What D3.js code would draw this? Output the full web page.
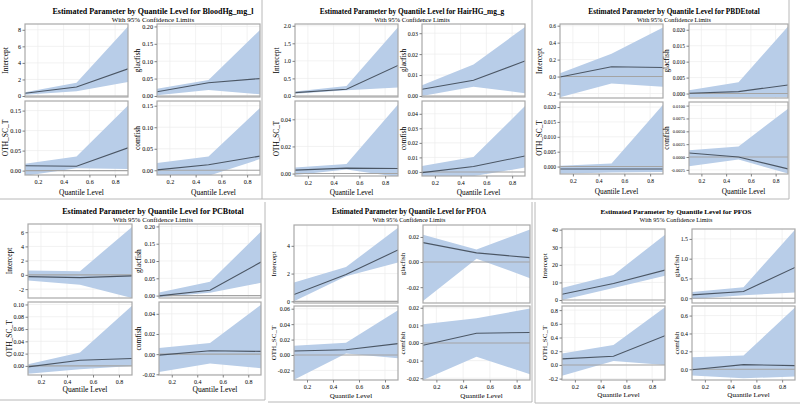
<!DOCTYPE html>
<html><head><meta charset="utf-8">
<script src="https://cdn.jsdelivr.net/npm/d3@7"></script>
<style>
body{margin:0;background:#fff}
svg{display:block}
text{font-family:"Liberation Serif","Times New Roman",serif;fill:#000}
</style>
</head><body><svg id="c" width="800" height="409"></svg>
<script>
// ---------------- data ----------------
const quantiles = [0.1, 0.5, 0.9];
const responses = ["BloodHg_mg_l", "HairHG_mg_g", "PBDEtotal", "PCBtotal", "PFOA", "PFOS"];
const parameters = ["Intercept", "glacfish", "OTH_SC_T", "comfish"];
const xTickLabels = ["0.2", "0.4", "0.6", "0.8"];
const subtitle = "With 95% Confidence Limits";

// rows: Intercept, glacfish, OTH_SC_T, comfish ; columns: quantile 0.1, 0.5, 0.9
const bloodHgEstimate = [[0.33, 1.08, 3.28], [0.012, 0.038, 0.050], [0.012, 0.011, 0.057], [0.001, 0.013, 0.033]];
const bloodHgLower    = [[0.15, 0.58, 1.68], [0.002, 0.017, 0.005], [-0.013, 0.006, 0.004], [-0.013, -0.013, 0.026]];
const bloodHgUpper    = [[0.45, 1.6, 8.4], [0.021, 0.046, 0.19], [0.017, 0.035, 0.163], [0.017, 0.032, 0.145]];
const bloodHgYRange   = [[-0.12, 8.7], [-0.003, 0.207], [-0.011, 0.174], [-0.011, 0.161]];
const bloodHgYTicks   = [["0", "2", "4", "6", "8"], ["0.00", "0.05", "0.10", "0.15", "0.20"], ["0.00", "0.05", "0.10", "0.15"], ["0.00", "0.05", "0.10", "0.15"]];

const hairHgEstimate = [[0.094, 0.19, 0.87], [0.0032, 0.0075, 0.0167], [0.0025, 0.004, 0.0037], [-0.0005, 0.0037, 0.011]];
const hairHgLower    = [[0.06, 0.16, 0.24], [0.0, 0.0044, 0.0013], [-0.001, 0.003, -0.0025], [-0.0029, -0.0029, 0.003]];
const hairHgUpper    = [[0.13, 0.28, 1.96], [0.0051, 0.015, 0.033], [0.0045, 0.007, 0.051], [0.004, 0.0102, 0.0453]];
const hairHgYRange   = [[-0.03, 2.05], [-0.0005, 0.0344], [-0.0018, 0.0535], [-0.0028, 0.0488]];
const hairHgYTicks   = [["0.0", "0.5", "1.0", "1.5", "2.0"], ["0.00", "0.01", "0.02", "0.03"], ["0.00", "0.02", "0.04"], ["0.00", "0.01", "0.02", "0.03", "0.04"]];

const pbdeEstimate = [[-0.005, 0.115, 0.107], [0.0001, 0.0006, 0.0027], [-0.0008, -0.0008, -0.0008], [0.00077, 0.0, -0.0023]];
const pbdeLower    = [[-0.245, -0.083, -0.12], [-0.0012, -0.0012, -0.0012], [-0.0024, -0.002, -0.0018], [-0.0018, -0.0005, -0.0032]];
const pbdeUpper    = [[0.04, 0.27, 0.58], [0.001, 0.0035, 0.021], [0.0003, 0.001, 0.0208], [0.0013, 0.00205, 0.0094]];
const pbdeYRange   = [[-0.253, 0.62], [-0.0014, 0.0218], [-0.0025, 0.0217], [-0.0033, 0.0107]];
const pbdeYTicks   = [["-0.2", "0.0", "0.2", "0.4", "0.6"], ["0.000", "0.005", "0.010", "0.015", "0.020"], ["0.000", "0.005", "0.010", "0.015", "0.020"], ["-0.0025", "0.0000", "0.0025", "0.0050", "0.0075", "0.0100"]];

const pcbEstimate = [[-0.24, -0.38, -0.14], [-0.001, 0.0155, 0.097], [-0.0016, 0.0093, 0.012], [-0.001, 0.0033, 0.0027]];
const pcbLower    = [[-0.8, -1.4, -3.25], [-0.005, 0.008, 0.037], [-0.0126, -0.0055, 0.0], [-0.0177, -0.0093, -0.014]];
const pcbUpper    = [[0.61, 0.52, 6.73], [0.0087, 0.04, 0.185], [0.0027, 0.022, 0.098], [0.006, 0.011, 0.049]];
const pcbYRange   = [[-3.25, 7.15], [-0.007, 0.207], [-0.0148, 0.104], [-0.0207, 0.0517]];
const pcbYTicks   = [["-2", "0", "2", "4", "6"], ["0.00", "0.05", "0.10", "0.15", "0.20"], ["0.00", "0.02", "0.04", "0.06", "0.08", "0.10"], ["-0.02", "0.00", "0.02", "0.04"]];

const pfoaEstimate = [[0.49, 1.93, 3.7], [0.0155, 0.0073, 0.0035], [0.0052, 0.0069, 0.0147], [-0.0013, 0.0055, 0.006]];
const pfoaLower    = [[0.0, 1.8, 2.79], [-0.031, 0.0027, -0.0128], [-0.032, 0.002, -0.0043], [-0.021, -0.0078, -0.0177]];
const pfoaUpper    = [[1.36, 2.47, 5.3], [0.0218, 0.01, 0.026], [0.012, 0.016, 0.058], [0.0106, 0.014, 0.0196]];
const pfoaYRange   = [[-0.12, 5.5], [-0.0326, 0.0295], [-0.0324, 0.0635], [-0.021, 0.021]];
const pfoaYTicks   = [["0", "2", "4"], ["-0.02", "0.00", "0.02"], ["-0.02", "0.00", "0.02", "0.04", "0.06"], ["-0.02", "-0.01", "0.00", "0.01", "0.02"]];

const pfosEstimate = [[3.3, 9.4, 17], [0.085, 0.17, 0.78], [0.088, 0.127, 0.427], [-0.005, 0.052, 0.041]];
const pfosLower    = [[0.0, 6.9, 13.8], [-0.02, 0.076, 0.144], [-0.157, 0.059, 0.0], [-0.071, -0.1, -0.082]];
const pfosUpper    = [[6.9, 14.2, 37.2], [0.16, 0.28, 1.73], [0.167, 0.29, 0.84], [0.134, 0.153, 0.69]];
const pfosYRange   = [[-1.7, 40.4], [-0.12, 1.75], [-0.22, 0.86], [-0.12, 0.707]];
const pfosYTicks   = [["0", "10", "20", "30", "40"], ["0.0", "0.5", "1.0", "1.5"], ["-0.2", "0.0", "0.2", "0.4", "0.6", "0.8"], ["0.0", "0.2", "0.4", "0.6"]];

const panels = [
  {name: responses[0], est: bloodHgEstimate, lo: bloodHgLower, hi: bloodHgUpper, yr: bloodHgYRange, yt: bloodHgYTicks},
  {name: responses[1], est: hairHgEstimate, lo: hairHgLower, hi: hairHgUpper, yr: hairHgYRange, yt: hairHgYTicks},
  {name: responses[2], est: pbdeEstimate, lo: pbdeLower, hi: pbdeUpper, yr: pbdeYRange, yt: pbdeYTicks},
  {name: responses[3], est: pcbEstimate, lo: pcbLower, hi: pcbUpper, yr: pcbYRange, yt: pcbYTicks},
  {name: responses[4], est: pfoaEstimate, lo: pfoaLower, hi: pfoaUpper, yr: pfoaYRange, yt: pfoaYTicks},
  {name: responses[5], est: pfosEstimate, lo: pfosLower, hi: pfosUpper, yr: pfosYRange, yt: pfosYTicks}
];

// ---------------- layout ----------------
const layout = [
  {L:[25,128], R:[157,260], T:[24,97],  B:[101,175], tx:153, ty:14,  sy:22,  xly:195, tfs:8.0,  sfs:7.0,  kfs:[6.2,6.2,6.2,6.2], lfs:7.5},
  {L:[295,398],R:[422,525], T:[24,97],  B:[101,176], tx:412, ty:14,  sy:22,  xly:195, tfs:7.35, sfs:6.45, kfs:[5.9,5.9,5.9,5.9], lfs:7.3},
  {L:[560,663],R:[689,788], T:[24,98],  B:[102,174], tx:674, ty:14,  sy:22,  xly:194, tfs:7.35, sfs:6.3,  kfs:[5.5,5.5,5.5,4.5], lfs:7.3},
  {L:[28,132], R:[159,261], T:[224,298],B:[302,375], tx:153, ty:214, sy:222, xly:392, tfs:8.0,  sfs:6.8,  kfs:[6.0,6.0,6.0,6.0], lfs:7.5},
  {L:[294,398],R:[423,530], T:[225,303],B:[306,380], tx:409, ty:214, sy:222, xly:398, tfs:7.2,  sfs:6.2,  kfs:[5.9,5.9,5.9,5.9], lfs:7.1},
  {L:[562,665],R:[692,795], T:[229,303],B:[306,380], tx:676, ty:214, sy:222, xly:397, tfs:7.1,  sfs:6.2,  kfs:[5.9,5.9,5.9,5.9], lfs:7.1}
];

const COL = {band:"#b8cde8", line:"#4b5664", ref:"#a4a4a4", frame:"#a9a9a9", grid:"#ededed", tick:"#808080", border:"#b8b8b8"};

const svg = d3.select("#c");
svg.append("rect").attr("width",800).attr("height",409).attr("fill","#fff");

// panel separators
const borderSegs = [
  [262,0,262,199],[0,199,789,199],[532,0,532,199],[789,0,789,199],
  [265,202,265,400],[0,400,265,400],[532,202,532,402],[268,402,532,402],
  [535,202,535,403],[535,403,800,403]
];
svg.append("g").selectAll("line").data(borderSegs).join("line")
  .attr("x1",d=>d[0]).attr("y1",d=>d[1]).attr("x2",d=>d[2]).attr("y2",d=>d[3])
  .attr("stroke",COL.border).attr("stroke-width",1);

const defs = svg.append("defs");
let clipId = 0;

panels.forEach((p, pi) => {
  const lay = layout[pi];
  const g = svg.append("g");
  g.append("text").attr("x", lay.tx).attr("y", lay.ty).attr("text-anchor","middle")
    .attr("font-weight","bold").attr("font-size", lay.tfs)
    .text("Estimated Parameter by Quantile Level for " + p.name);
  g.append("text").attr("x", lay.tx).attr("y", lay.sy).attr("text-anchor","middle")
    .attr("font-size", lay.sfs).text(subtitle);

  const colTickW = [0, 0];
  const labelItems = [];

  parameters.forEach((param, k) => {
    const col = k % 2, row = Math.floor(k / 2);
    const xr = col === 0 ? lay.L : lay.R;
    const yrng = row === 0 ? lay.T : lay.B;
    const x = d3.scaleLinear().domain([quantiles[0], quantiles[2]]).range(xr);
    const y = d3.scaleLinear().domain(p.yr[k]).range([yrng[1], yrng[0]]);
    const ticks = p.yt[k];
    const tickVals = ticks.map(Number);
    const xVals = xTickLabels.map(Number);

    const id = "clip" + (clipId++);
    defs.append("clipPath").attr("id", id).append("rect")
      .attr("x", xr[0]).attr("y", yrng[0]).attr("width", xr[1]-xr[0]).attr("height", yrng[1]-yrng[0]);

    const sg = g.append("g");
    const inner = sg.append("g").attr("clip-path", `url(#${id})`);
    inner.append("rect").attr("x", xr[0]).attr("y", yrng[0]).attr("width", xr[1]-xr[0]).attr("height", yrng[1]-yrng[0]).attr("fill","#fff");
    inner.selectAll(".gx").data(xVals).join("line")
      .attr("x1", d=>x(d)).attr("x2", d=>x(d)).attr("y1", yrng[0]).attr("y2", yrng[1])
      .attr("stroke", COL.grid).attr("stroke-width", 0.7);
    inner.selectAll(".gy").data(tickVals).join("line")
      .attr("x1", xr[0]).attr("x2", xr[1]).attr("y1", d=>y(d)).attr("y2", d=>y(d))
      .attr("stroke", COL.grid).attr("stroke-width", 0.7);
    const area = d3.area().x((d,i)=>x(quantiles[i])).y0((d,i)=>y(p.lo[k][i])).y1((d,i)=>y(p.hi[k][i]));
    inner.append("path").datum(quantiles).attr("d", area).attr("fill", COL.band);
    inner.append("line").attr("x1", xr[0]).attr("x2", xr[1]).attr("y1", y(0)).attr("y2", y(0))
      .attr("stroke", COL.ref).attr("stroke-width", 1.1);
    const line = d3.line().x((d,i)=>x(quantiles[i])).y(d=>y(d));
    inner.append("path").datum(p.est[k]).attr("d", line).attr("fill","none")
      .attr("stroke", COL.line).attr("stroke-width", 1.1);
    sg.append("rect").attr("x", xr[0]).attr("y", yrng[0]).attr("width", xr[1]-xr[0]).attr("height", yrng[1]-yrng[0])
      .attr("fill","none").attr("stroke", COL.frame).attr("stroke-width", 1.2);

    const ya = sg.append("g").attr("transform", `translate(${xr[0]},0)`)
      .call(d3.axisLeft(y).tickValues(tickVals).tickFormat((d,i)=>ticks[i]).tickSize(2.5).tickPadding(1.5));
    ya.select(".domain").remove();
    ya.selectAll(".tick line").attr("stroke", COL.tick);
    ya.selectAll("text").attr("font-size", lay.kfs[k]).attr("font-family", null).attr("fill","#222");
    ya.selectAll("text").each(function(){ colTickW[col] = Math.max(colTickW[col], this.getComputedTextLength()); });

    if (row === 1) {
      const xa = sg.append("g").attr("transform", `translate(0,${yrng[1]})`)
        .call(d3.axisBottom(x).tickValues(xVals).tickFormat((d,i)=>xTickLabels[i]).tickSize(2.5).tickPadding(2.5));
      xa.select(".domain").remove();
      xa.selectAll(".tick line").attr("stroke", COL.tick);
      xa.selectAll("text").attr("font-size", lay.kfs[0]).attr("font-family", null).attr("fill","#222");
      g.append("text").attr("x", (xr[0]+xr[1])/2 + 5).attr("y", lay.xly).attr("text-anchor","middle")
        .attr("font-size", lay.lfs).text("Quantile Level");
    }
    labelItems.push({col, x0: xr[0], cy: (yrng[0]+yrng[1])/2, text: param});
  });

  labelItems.forEach(it => {
    const bx = it.x0 - 4 - colTickW[it.col] - 2;
    g.append("text").attr("transform", `translate(${bx},${it.cy}) rotate(-90)`)
      .attr("text-anchor","middle").attr("font-size", lay.lfs).text(it.text);
  });
});
</script>
</body></html>
